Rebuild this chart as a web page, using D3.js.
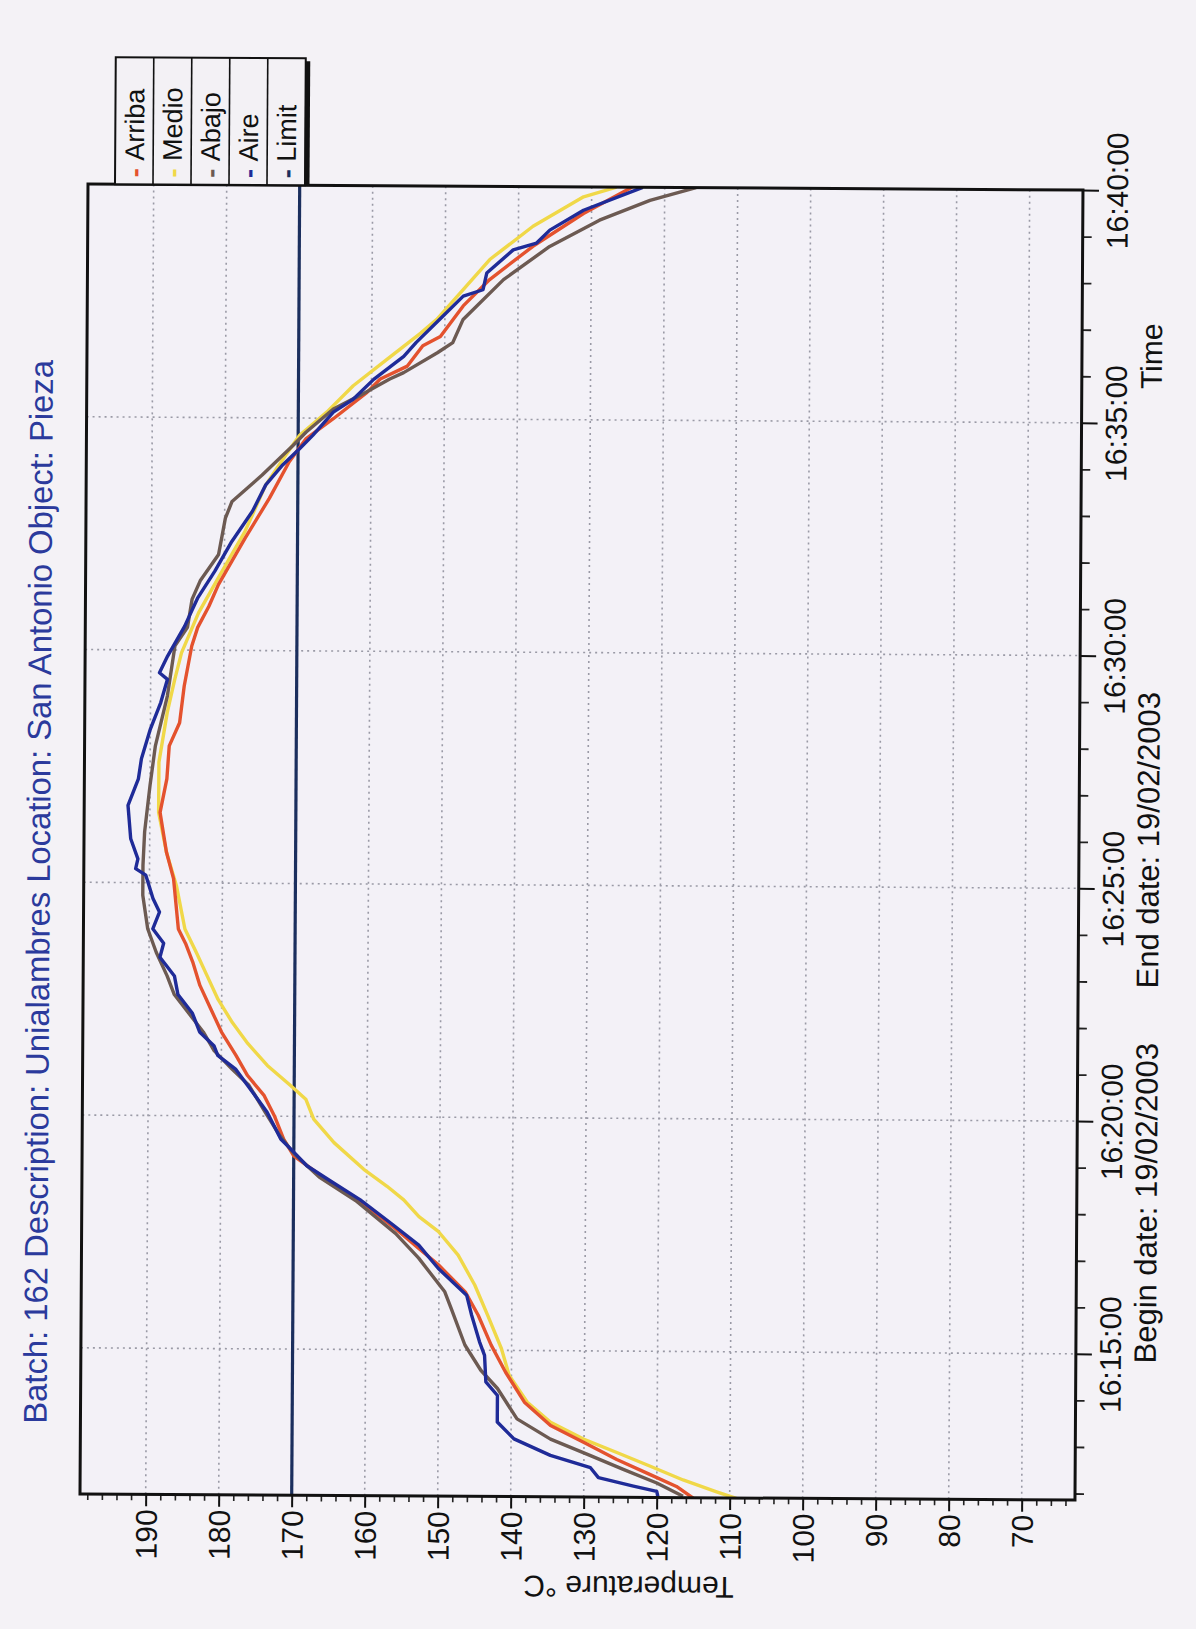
<!DOCTYPE html>
<html><head><meta charset="utf-8">
<script src="https://cdn.jsdelivr.net/npm/d3@7/dist/d3.min.js"></script>
<style>html,body{margin:0;padding:0;background:#f3f1f5;} svg{display:block}</style>
</head><body>
<svg id="c" width="1196" height="1629"></svg>
<script>
// ---- data (time = minutes after 16:00, value = °C) ----
const timeTicks = ["16:15:00","16:20:00","16:25:00","16:30:00","16:35:00","16:40:00"];
const tempTicks = [190,180,170,160,150,140,130,120,110,100,90,80,70];
const legendNames = ["Arriba","Medio","Abajo","Aire","Limit"];
const limitValue = 170;
const titleText = "Batch: 162 Description: Unialambres  Location: San Antonio  Object: Pieza";
const beginText = "Begin date: 19/02/2003";
const endText = "End date: 19/02/2003";

const arriba = [[11.85,115.0],[12.10,117.3],[12.35,120.9],[12.67,125.5],[13.03,130.0],[13.39,134.6],[13.89,138.2],[14.53,140.8],[15.11,142.8],[15.75,144.6],[16.25,146.4],[16.83,150.1],[17.18,152.8],[17.6,156.0],[18.2,161.0],[18.7,166.0],[19.15,170.0],[19.51,171.4],[20.01,172.7],[20.44,174.1],[20.87,176.4],[21.3,178.0],[21.8,180.0],[22.3,181.5],[22.8,183.0],[23.3,184.0],[23.7,185.0],[24.01,186.0],[25.09,186.7],[25.66,187.7],[26.51,188.6],[27.23,187.7],[27.94,187.4],[28.44,186.0],[29.23,185.4],[30.09,184.4],[30.49,183.6],[30.94,182.1],[31.41,180.8],[32.41,177.2],[33.27,173.9],[34.06,171.2],[34.56,168.9],[34.99,165.2],[35.56,160.6],[35.85,158.8],[36.13,155.1],[36.57,153.0],[36.77,150.6],[37.43,147.5],[38.00,143.9],[38.72,138.0],[39.43,131.1],[40.0,124.5]];
const medio = [[11.85,109.1],[11.99,111.8],[12.24,116.4],[12.53,120.9],[12.82,125.5],[13.10,130.0],[13.46,134.6],[13.89,137.8],[14.46,140.3],[15.04,141.4],[15.75,143.3],[16.40,145.1],[17.04,147.4],[17.54,150.1],[17.86,152.8],[18.22,154.9],[18.51,157.2],[18.87,160.4],[19.44,164.5],[19.94,167.3],[20.37,168.4],[20.66,170.5],[21.09,173.7],[21.56,176.4],[22.0,178.5],[22.5,180.5],[23.0,182.0],[23.5,183.5],[24.01,185.1],[24.94,186.3],[25.66,187.7],[26.51,188.8],[27.59,188.8],[28.66,187.7],[29.37,186.7],[29.94,185.8],[30.80,183.5],[31.56,180.8],[32.56,177.2],[33.56,174.4],[34.20,171.7],[34.63,169.8],[35.13,166.1],[35.70,162.5],[36.27,157.9],[36.84,153.3],[37.14,151.1],[38.43,143.9],[39.15,138.0],[39.79,131.1],[40.0,126.6]];
const abajo = [[11.89,116.4],[12.17,120.0],[12.46,124.6],[12.75,129.1],[13.10,134.6],[13.53,139.2],[14.18,141.9],[14.57,144.2],[15.11,146.4],[15.89,148.3],[16.25,149.2],[16.97,152.8],[17.5,156.0],[18.2,161.5],[18.7,166.5],[19.2,170.0],[19.6,172.0],[20.1,174.0],[20.66,176.2],[21.0,178.5],[21.4,181.0],[21.8,182.5],[22.2,184.5],[22.6,186.5],[23.0,187.5],[23.5,189.0],[24.01,190.2],[24.73,190.9],[25.37,190.9],[26.09,190.7],[27.09,190.0],[27.94,189.3],[29.01,187.7],[30.09,186.7],[30.49,185.0],[31.09,184.4],[31.49,183.3],[32.06,180.8],[32.84,179.9],[33.20,179.0],[33.77,174.9],[34.41,170.7],[34.70,168.9],[35.20,165.2],[35.5,161.5],[35.85,157.5],[35.99,155.6],[36.42,151.0],[36.64,148.9],[37.14,147.5],[38.00,142.0],[38.72,135.7],[39.29,128.9],[39.72,122.0],[40.0,115.7]];
const aire = [[11.85,119.8],[11.99,120.0],[12.10,123.2],[12.28,128.0],[12.49,129.1],[12.75,134.6],[13.10,139.6],[13.46,141.9],[14.03,141.9],[14.32,143.5],[14.89,143.7],[15.18,144.4],[15.75,145.5],[16.18,146.2],[16.75,150.1],[17.25,152.8],[17.7,156.5],[18.22,160.9],[18.62,165.0],[18.94,168.2],[19.23,170.0],[19.51,171.8],[20.09,173.7],[20.66,176.4],[21.0,178.0],[21.3,180.5],[21.5,181.0],[21.8,183.0],[22.2,184.0],[22.6,186.0],[23.0,186.5],[23.4,188.5],[23.7,188.0],[24.01,189.5],[24.37,188.6],[24.66,189.5],[25.16,190.5],[25.30,191.9],[25.51,191.6],[25.94,192.6],[26.66,193.0],[27.23,191.6],[27.66,191.2],[28.30,190.0],[28.87,188.6],[29.37,187.7],[29.51,188.8],[29.87,187.7],[30.51,185.4],[31.13,183.6],[31.70,181.3],[32.34,179.0],[32.99,176.2],[33.56,174.4],[33.99,172.1],[34.34,169.8],[34.63,168.0],[35.13,165.2],[35.41,162.5],[35.84,159.7],[36.34,155.6],[36.64,153.9],[37.14,150.7],[37.64,147.5],[37.78,144.8],[38.14,144.3],[38.64,140.7],[38.79,137.5],[39.07,135.7],[39.50,131.1],[40.0,123.0]];

const seriesList = [
  {name:"Medio",  data:medio,  color:"#f0d848"},
  {name:"Arriba", data:arriba, color:"#e4522e"},
  {name:"Abajo",  data:abajo,  color:"#6c5a52"},
  {name:"Aire",   data:aire,   color:"#1f2b98"}
];
const legendColors = {"Arriba":"#e4522e","Medio":"#f0d848","Abajo":"#6c5a52","Aire":"#1f2b98","Limit":"#1b2f5e"};

// ---- layout ----
const FONT = "'Liberation Sans', Arial, Helvetica, sans-serif";
const L = 84, R = 1079, T = 187, B = 1497;
const svg = d3.select("#c");
svg.append("rect").attr("width",1196).attr("height",1629).attr("fill","#f4f2f6");
const g = svg.append("g").attr("transform","rotate(0.35,580,840)");

const toMin = s => { const p = s.split(":"); return (+p[0]-16)*60 + (+p[1]) + (+p[2])/60; };
const x = d3.scaleLinear().domain([199, 62.7]).range([L, R]);
const y = d3.scaleLinear().domain([11.86, 40]).range([B, T]);

// plot background
g.append("rect").attr("x",L).attr("y",T).attr("width",R-L).attr("height",B-T).attr("fill","#f3f1f7");

// grid
const grid = g.append("g").attr("stroke","#9a9aa6").attr("stroke-width",1.6).attr("stroke-dasharray","2,4");
grid.selectAll(".gv").data(tempTicks).join("line")
  .attr("x1",d=>x(d)).attr("x2",d=>x(d)).attr("y1",T).attr("y2",B);
grid.selectAll(".gh").data(timeTicks.map(toMin).filter(m=>m<40)).join("line")
  .attr("y1",d=>y(d)).attr("y2",d=>y(d)).attr("x1",L).attr("x2",R);

// limit line
g.append("line").attr("x1",x(limitValue)).attr("x2",x(limitValue)).attr("y1",T).attr("y2",B)
  .attr("stroke",legendColors.Limit).attr("stroke-width",3.2);

// curves
g.append("clipPath").attr("id","clip").append("rect").attr("x",L).attr("y",T).attr("width",R-L).attr("height",B-T);
const line = d3.line().x(d=>x(d[1])).y(d=>y(d[0]));
const curves = g.append("g").attr("clip-path","url(#clip)");
seriesList.forEach(s=>{
  curves.append("path").attr("d",line(s.data)).attr("fill","none")
    .attr("stroke",s.color).attr("stroke-width",3.4).attr("stroke-linejoin","round");
});

// axes: temperature (bottom)
const minorTemp = d3.range(64, 199, 2).filter(v=>v%10!==0);
g.append("g").attr("transform",`translate(0,${B})`)
  .call(d3.axisBottom(x).tickValues(minorTemp).tickSize(6).tickFormat(""))
  .call(a=>{a.select(".domain").remove(); a.selectAll("line").attr("stroke","#222").attr("stroke-width",1.6);});
const ax = g.append("g").attr("transform",`translate(0,${B})`)
  .call(d3.axisBottom(x).tickValues(tempTicks).tickSize(12).tickFormat(d=>d));
ax.select(".domain").remove();
ax.selectAll("line").attr("stroke","#111").attr("stroke-width",2);
ax.selectAll("text").attr("transform","rotate(-90)").attr("text-anchor","end")
  .attr("x",-15).attr("y",0).attr("dy","0.36em")
  .attr("font-family",FONT).attr("font-size",30).attr("fill","#111");

// axes: time (right)
const minorTime = d3.range(12, 40, 1).filter(v=>v%5!==0);
g.append("g").attr("transform",`translate(${R},0)`)
  .call(d3.axisRight(y).tickValues(minorTime).tickSize(9).tickFormat(""))
  .call(a=>{a.select(".domain").remove(); a.selectAll("line").attr("stroke","#222").attr("stroke-width",1.8);});
const ay = g.append("g").attr("transform",`translate(${R},0)`)
  .call(d3.axisRight(y).tickValues(timeTicks.map(toMin)).tickSize(16).tickFormat((d,i)=>timeTicks[i]));
ay.select(".domain").remove();
ay.selectAll("line").attr("stroke","#111").attr("stroke-width",2);
ay.selectAll("text").attr("transform","translate(45,0) rotate(-90)").attr("text-anchor","middle")
  .attr("x",0).attr("y",0).attr("dy",0)
  .attr("font-family",FONT).attr("font-size",30).attr("fill","#111");

// frame
g.append("rect").attr("x",L).attr("y",T).attr("width",R-L).attr("height",B-T)
  .attr("fill","none").attr("stroke","#111").attr("stroke-width",3);

// axis titles / dates
g.append("text").attr("transform",`translate(633,1576) rotate(180)`).attr("text-anchor","middle")
  .attr("font-family",FONT).attr("font-size",30).attr("fill","#111").text("Temperature °C");
g.append("text").attr("transform",`translate(1159,1360) rotate(-90)`).attr("text-anchor","start")
  .attr("font-family",FONT).attr("font-size",31).attr("fill","#111").text(beginText);
g.append("text").attr("transform",`translate(1159,985) rotate(-90)`).attr("text-anchor","start")
  .attr("font-family",FONT).attr("font-size",31).attr("fill","#111").text(endText);
g.append("text").attr("transform",`translate(1159,320) rotate(-90)`).attr("text-anchor","end")
  .attr("font-family",FONT).attr("font-size",30).attr("fill","#111").text("Time");

// title
const title = g.append("text").attr("transform",`translate(50,1427) rotate(-90)`).attr("text-anchor","start")
  .attr("font-family",FONT).attr("font-size",28).attr("fill","#2b3a9c").text(titleText);
const tl = title.node().getComputedTextLength();
title.attr("font-size", 28*1064/tl);

// legend
const cellW = 38, lx0 = 111, lyTop = 60, lyBot = T;
const lg = g.append("g");
lg.append("rect").attr("x",lx0).attr("y",lyTop).attr("width",cellW*legendNames.length).attr("height",lyBot-lyTop)
  .attr("fill","#f3f1f5").attr("stroke","#111").attr("stroke-width",2);
lg.append("line").attr("x1",lx0+cellW*legendNames.length+2).attr("x2",lx0+cellW*legendNames.length+2)
  .attr("y1",lyTop+3).attr("y2",lyBot).attr("stroke","#111").attr("stroke-width",5);
legendNames.forEach((n,i)=>{
  const cx = lx0 + cellW*i + cellW/2;
  if(i>0) lg.append("line").attr("x1",lx0+cellW*i).attr("x2",lx0+cellW*i).attr("y1",lyTop).attr("y2",lyBot)
    .attr("stroke","#111").attr("stroke-width",1.6);
  const t = lg.append("text").attr("transform",`translate(${cx},${lyBot-7}) rotate(-90)`)
    .attr("dy","0.36em").attr("font-family",FONT).attr("font-size",27).attr("fill","#111");
  t.append("tspan").attr("fill",legendColors[n]).attr("font-weight","bold").text("- ");
  t.append("tspan").text(n);
});
</script>
</body></html>
